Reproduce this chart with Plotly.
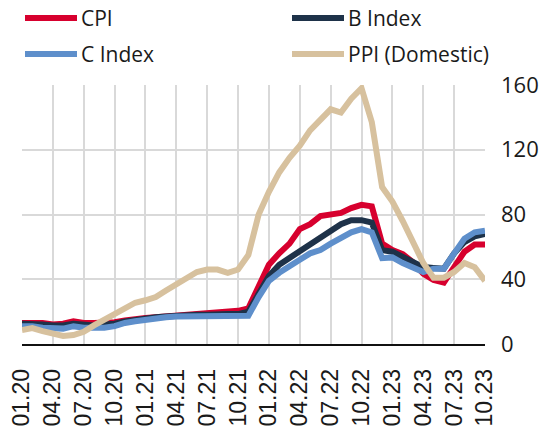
import plotly.graph_objects as go

# Monthly categories 01.20 .. 10.23
MONTHS = [f"{m:02d}.{y}" for y in (20, 21, 22, 23) for m in range(1, 13)][:46]
TICK_LABELS = ["01.20", "04.20", "07.20", "10.20", "01.21", "04.21", "07.21", "10.21",
               "01.22", "04.22", "07.22", "10.22", "01.23", "04.23", "07.23", "10.23"]
Y_TICKS = [0, 40, 80, 120, 160]

CPI = [13, 13, 13, 12, 12.5, 14, 13, 13, 13, 13.5, 14.5, 15.5, 16, 16.5, 17, 17.5,
       18, 18.5, 19, 19.5, 20, 20.5, 22, 35, 49, 56, 62, 71, 74, 79, 80, 81, 84, 86,
       85, 62, 58, 55.5, 50.5, 43.5, 39.5, 38, 47.5, 57, 61.5, 61.5]
B_INDEX = [12.5, 12.5, 12, 11.5, 11.5, 12.5, 12, 11.5, 12, 12.5, 14, 15, 16, 16.5, 17,
           17.5, 17.5, 18, 18, 18.5, 18.5, 18.5, 20, 31, 42, 49, 53, 58, 62, 66, 70, 74,
           76.5, 76.5, 75, 58, 57, 54, 50.5, 47.5, 47, 46.5, 56, 63, 66.5, 68]
C_INDEX = [11, 11, 10, 9.5, 9.5, 11, 10, 10, 10, 11, 13, 14, 15, 16, 16.5, 17, 17, 17,
           17, 17, 17, 17, 17.5, 29, 39, 44, 47.5, 52, 56, 58, 62, 66, 69, 71, 69, 53,
           53.5, 50, 47, 44.5, 46.5, 46.5, 56, 65, 69, 70]
PPI = [8.6, 9.8, 8, 6.6, 5, 5.5, 7.5, 11.5, 15, 19, 23, 25.5, 27, 29, 33, 37, 40.5,
       44.5, 46, 46, 44, 46, 55, 80, 94, 106, 115, 122.5, 132, 138.5, 145, 143, 151.5,
       158, 137, 97, 88, 76, 62, 50, 41, 41, 44.5, 50, 47.5, 39]

SERIES = [
    ("CPI", CPI, "#d7002e"),
    ("B Index", B_INDEX, "#1e3249"),
    ("C Index", C_INDEX, "#5e8fcb"),
    ("PPI (Domestic)", PPI, "#d7c19e"),
]

W, H = 557, 426
ML, MR, MT, MB = 22, 557 - 485, 85, 426 - 344
PW, PH = W - ML - MR, H - MT - MB

fig = go.Figure()
for name, vals, col in SERIES:
    fig.add_trace(go.Scatter(x=MONTHS, y=vals, mode="lines", name=name,
                             line=dict(color=col, width=6), showlegend=False))

# Manual legend (two columns, two rows), positions in window pixels
legend_pos = [(25, 18), (292, 18), (25, 54), (292, 54)]
shapes, annotations = [], []
for (name, vals, col), (px, py) in zip(SERIES, legend_pos):
    yp = (H - MB - py) / PH
    x0 = (px - ML) / PW
    x1 = (px + 52 - ML) / PW
    shapes.append(dict(type="line", xref="paper", yref="paper", x0=x0, x1=x1,
                       y0=yp, y1=yp, line=dict(color=col, width=6)))
    annotations.append(dict(xref="paper", yref="paper", x=(px + 54 - ML) / PW, y=yp,
                            text=name, showarrow=False, xanchor="left", yanchor="middle",
                            font=dict(family="Open Sans", size=21, color="#1a1a1a")))

fig.update_layout(
    width=W, height=H,
    margin=dict(l=ML, r=MR, t=MT, b=MB, pad=0, autoexpand=False),
    paper_bgcolor="white", plot_bgcolor="white",
    shapes=shapes, annotations=annotations,
    xaxis=dict(type="category", categoryorder="array", categoryarray=MONTHS,
               range=[0, len(MONTHS) - 1], tickmode="array", tickvals=TICK_LABELS,
               ticktext=TICK_LABELS, tickangle=-90, showgrid=True, gridcolor="#d9d9d9",
               gridwidth=1.5, showline=True, linecolor="#111111", linewidth=1.5,
               ticks="", ticklabelstandoff=14, zeroline=False, automargin=False,
               tickfont=dict(family="Liberation Sans", size=23, color="#1a1a1a")),
    yaxis=dict(side="right", range=[0, 160], tickmode="array", tickvals=Y_TICKS,
               showgrid=True, gridcolor="#d9d9d9", gridwidth=1.5, zeroline=False,
               showline=False, ticks="", ticklabelstandoff=15, automargin=False,
               tickfont=dict(family="Open Sans", size=22, color="#1a1a1a")),
)

# Remove the default page margin so the 557x426 figure fills the window exactly
fig.write_html("out.html", config={"displayModeBar": False},
               post_script="document.body.style.margin='0px';")
